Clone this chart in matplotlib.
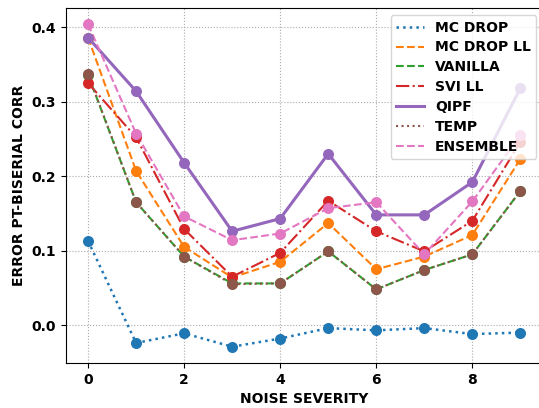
import numpy as np
import matplotlib.pyplot as plt

severity = np.arange(10)

mc_drop = [0.113, -0.024, -0.011, -0.029, -0.018, -0.004, -0.007, -0.004, -0.012, -0.010]
mc_drop_ll = [0.386, 0.207, 0.105, 0.064, 0.085, 0.137, 0.075, 0.092, 0.121, 0.223]
vanilla = [0.336, 0.165, 0.092, 0.056, 0.056, 0.099, 0.048, 0.074, 0.095, 0.180]
svi_ll = [0.325, 0.252, 0.129, 0.065, 0.097, 0.167, 0.126, 0.099, 0.140, 0.246]
qipf = [0.386, 0.314, 0.218, 0.126, 0.143, 0.230, 0.148, 0.148, 0.192, 0.318]
temp = [0.337, 0.165, 0.092, 0.055, 0.056, 0.099, 0.048, 0.074, 0.095, 0.180]
ensemble = [0.404, 0.257, 0.146, 0.114, 0.123, 0.157, 0.165, 0.095, 0.166, 0.255]

series = [
    ('MC DROP', mc_drop, ':', 1.8),
    ('MC DROP LL', mc_drop_ll, '--', 1.5),
    ('VANILLA', vanilla, '--', 1.5),
    ('SVI LL', svi_ll, '-.', 1.5),
    ('QIPF', qipf, '-', 2.2),
    ('TEMP', temp, ':', 1.5),
    ('ENSEMBLE', ensemble, '--', 1.5),
]

fig = plt.figure(figsize=(5.39, 4.08), dpi=100)
ax = fig.add_axes([0.1224, 0.110, 0.884, 0.870])

for i, (name, vals, ls, lw) in enumerate(series):
    c = 'C%d' % i
    ax.plot(severity, vals, ls, color=c, lw=lw, label=name)
    ax.scatter(severity, vals, s=48, color=c, zorder=3)

ax.set_xlim(-0.46, 9.46)
ax.set_ylim(-0.051, 0.4255)
ax.set_xticks([0, 2, 4, 6, 8])
ax.set_yticks([0.0, 0.1, 0.2, 0.3, 0.4])
ax.grid(True, linestyle=':', color='#aaaaaa', lw=0.8)
ax.set_xlabel('NOISE SEVERITY', fontweight='bold')
ax.set_ylabel('ERROR PT-BISERIAL CORR', fontweight='bold')
for lab in ax.get_xticklabels() + ax.get_yticklabels():
    lab.set_fontweight('bold')
ax.legend(loc='upper right', bbox_to_anchor=(1.002, 1.0), labelspacing=0.42,
          prop={'weight': 'bold', 'size': 10})

fig.savefig('out.png', dpi=100)
